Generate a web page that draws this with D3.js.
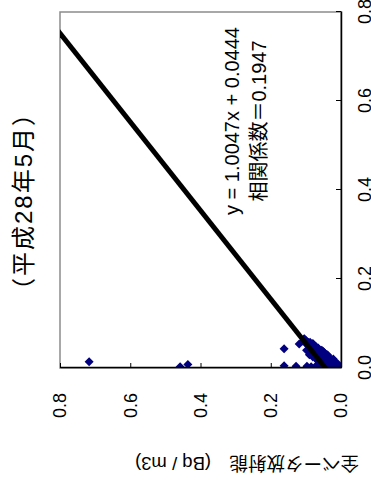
<!DOCTYPE html>
<html>
<head>
<meta charset="utf-8">
<script src="https://cdn.jsdelivr.net/npm/d3@7"></script>
<style>
  html, body { margin: 0; padding: 0; background: #fff; }
  svg { display: block; }
  text { font-family: "Liberation Sans", Arial, "Noto Sans CJK JP", sans-serif; }
</style>
</head>
<body>
<div id="chart"></div>
<script>
// ---- data ----
const titleText = "（平成28年5月）";
const yLabelText = "全ベータ放射能　(Bq / m3)";
const eqText = "y = 1.0047x + 0.0444";
const corrText = "相関係数＝0.1947";
const trendSlope = 1.0047;
const trendIntercept = 0.0444;
const xTicks = [0.0, 0.2, 0.4, 0.6, 0.8];
const yTicks = [0.0, 0.2, 0.4, 0.6, 0.8];

const xVals = [0.014, 0.003, 0.008, 0.043, 0.005, 0.004, 0.054, 0.004,
  0.066, 0.062, 0.060, 0.058, 0.056, 0.054, 0.052, 0.050, 0.049, 0.047, 0.045, 0.044,
  0.042, 0.040, 0.039, 0.037, 0.035, 0.034, 0.032, 0.030, 0.029, 0.027, 0.025, 0.024,
  0.022, 0.020, 0.019, 0.017, 0.015, 0.014, 0.012, 0.011, 0.009, 0.008, 0.006, 0.005,
  0.004, 0.003, 0.002, 0.001,
  0.003, 0.004, 0.002, 0.005, 0.003, 0.004, 0.002, 0.003,
  0.030, 0.020, 0.040, 0.045, 0.015, 0.025, 0.010, 0.050, 0.055, 0.035,
  0.011, 0.020, 0.030, 0.040, 0.025, 0.015,
  0.029, 0.020, 0.038, 0.047, 0.058, 0.065];
const yVals = [0.717, 0.458, 0.436, 0.162, 0.162, 0.128, 0.119, 0.097,
  0.105, 0.100, 0.108, 0.094, 0.100, 0.090, 0.096, 0.086, 0.092, 0.080, 0.088, 0.076,
  0.083, 0.072, 0.078, 0.066, 0.074, 0.060, 0.068, 0.055, 0.062, 0.050, 0.057, 0.044,
  0.052, 0.040, 0.046, 0.034, 0.042, 0.028, 0.036, 0.022, 0.030, 0.016, 0.024, 0.010,
  0.018, 0.005, 0.012, 0.002,
  0.085, 0.072, 0.065, 0.055, 0.045, 0.035, 0.025, 0.012,
  0.040, 0.030, 0.055, 0.065, 0.020, 0.035, 0.010, 0.075, 0.080, 0.048,
  0.058, 0.070, 0.090, 0.098, 0.080, 0.065,
  0.038, 0.022, 0.052, 0.070, 0.088, 0.104];

// ---- layout (chart drawn unrotated, then turned -90deg) ----
const W = 371, H = 481;         // page size
const plot = {left: 113, right: 469, top: 60, bottom: 341};

const svg = d3.select("#chart").append("svg")
  .attr("width", W).attr("height", H);

const g = svg.append("g")
  .attr("transform", `translate(0,${H}) rotate(-90)`);

const x = d3.scaleLinear().domain([0, 0.8]).range([plot.left, plot.right]);
const y = d3.scaleLinear().domain([0, 0.8]).range([plot.bottom, plot.top]);

g.append("defs").append("clipPath").attr("id", "clip")
  .append("rect")
  .attr("x", plot.left).attr("y", plot.top)
  .attr("width", plot.right - plot.left).attr("height", plot.bottom - plot.top);

// plot frame (grey)
g.append("rect")
  .attr("x", plot.left).attr("y", plot.top)
  .attr("width", plot.right - plot.left).attr("height", plot.bottom - plot.top)
  .attr("fill", "none").attr("stroke", "#8c8c8c").attr("stroke-width", 1.5);

// points
const diamond = "M0,-4.5L4.5,0L0,4.5L-4.5,0Z";
g.append("g").attr("clip-path", "url(#clip)")
  .selectAll("path").data(d3.range(xVals.length)).join("path")
  .attr("d", diamond)
  .attr("transform", i => `translate(${x(xVals[i])},${y(yVals[i])})`)
  .attr("fill", "#000080");

// trend line
const trendX = [0, 0.8];
g.append("g").attr("clip-path", "url(#clip)")
  .append("line")
  .attr("x1", x(trendX[0])).attr("y1", y(trendSlope * trendX[0] + trendIntercept))
  .attr("x2", x(trendX[1])).attr("y2", y(trendSlope * trendX[1] + trendIntercept))
  .attr("stroke", "#000").attr("stroke-width", 5);

// axes
const fmt = d3.format(".1f");
const xAxis = g.append("g")
  .attr("transform", `translate(0,${plot.bottom})`)
  .call(d3.axisBottom(x).tickValues(xTicks).tickFormat(fmt)
    .tickSizeInner(-5).tickSizeOuter(0).tickPadding(17));
const yAxis = g.append("g")
  .attr("transform", `translate(${plot.left},0)`)
  .call(d3.axisLeft(y).tickValues(yTicks).tickFormat(fmt)
    .tickSizeInner(-5).tickSizeOuter(0).tickPadding(25));
[xAxis, yAxis].forEach(a => {
  a.select(".domain").attr("stroke", "#000").attr("stroke-width", 1.5);
  a.selectAll(".tick line").attr("stroke", "#000").attr("stroke-width", 1);
  a.selectAll(".tick text").attr("fill", "#000")
    .style("font-size", "18px")
    .style("font-family", '"Liberation Sans", Arial, sans-serif');
});

// title
g.append("text")
  .attr("x", 280).attr("y", 32)
  .attr("text-anchor", "middle")
  .style("font-size", "24px")
  .style("letter-spacing", "2px")
  .attr("fill", "#000")
  .text(titleText);

// equation annotations
g.append("text")
  .attr("x", 360).attr("y", 239)
  .attr("text-anchor", "middle")
  .style("font-size", "20px")
  .attr("fill", "#000")
  .text(eqText);
g.append("text")
  .attr("x", 360).attr("y", 266)
  .attr("text-anchor", "middle")
  .style("font-size", "20px")
  .attr("fill", "#000")
  .text(corrText);

// y axis label
g.append("text")
  .attr("transform", `translate(24,135) rotate(-90)`)
  .attr("text-anchor", "end")
  .style("font-size", "18.5px")
  .attr("fill", "#000")
  .text(yLabelText);
</script>
</body>
</html>
